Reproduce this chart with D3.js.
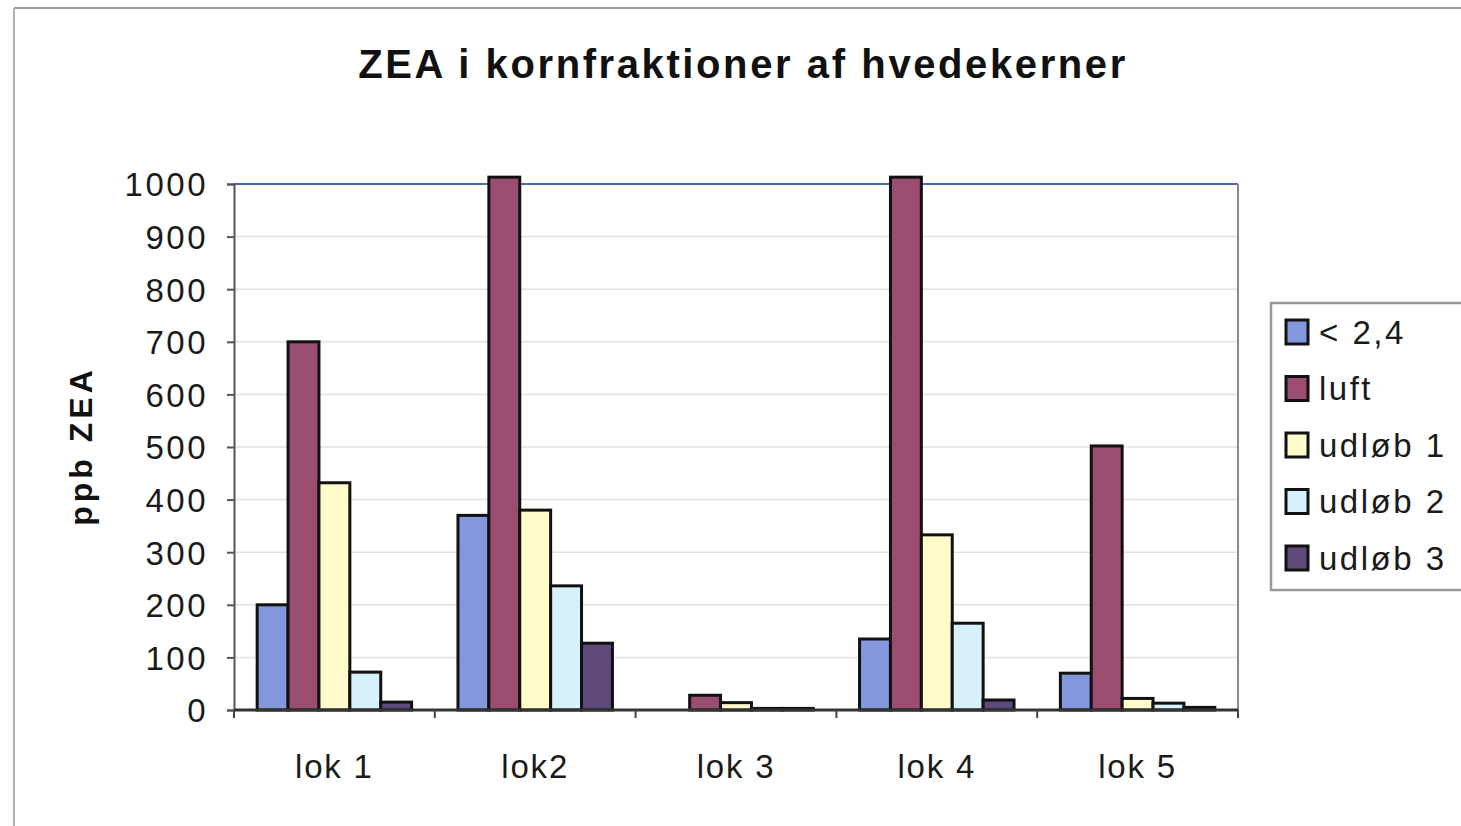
<!DOCTYPE html>
<html><head><meta charset="utf-8">
<script src="https://cdn.jsdelivr.net/npm/d3@7"></script>
<style>body{margin:0;background:#fff;}svg{display:block;font-family:"Liberation Sans",Arial,sans-serif;}</style>
</head><body><svg id="c" width="1461" height="826"></svg>
<script>
const categories = ["lok 1","lok2","lok 3","lok 4","lok 5"];
const seriesNames = ["< 2,4","luft","udløb 1","udløb 2","udløb 3"];
const seriesColors = ["#8497dc","#9b4d70","#fffbca","#d6f1fa","#5e4a78"];
const s_lt24   = [200, 370, 0, 135, 70];
const s_luft   = [700, 1013, 28, 1013, 502];
const s_udl1   = [432, 380, 14, 333, 22];
const s_udl2   = [72, 236, 3, 165, 13];
const s_udl3   = [15, 127, 3, 19, 5];
const seriesValues = [s_lt24, s_luft, s_udl1, s_udl2, s_udl3];
const yTicks = [0,100,200,300,400,500,600,700,800,900,1000];

const svg = d3.select("#c");
const L = 234, R = 1238, T = 184, B = 710;

// chart area border
svg.append("line").attr("x1",14).attr("x2",1461).attr("y1",8).attr("y2",8).attr("stroke","#9a9a9a").attr("stroke-width",2);
svg.append("line").attr("x1",14).attr("x2",14).attr("y1",8).attr("y2",826).attr("stroke","#b0b0b0").attr("stroke-width",2);

const x0 = d3.scaleBand().domain(categories).range([L,R]).paddingInner(0).paddingOuter(0);
const x1 = d3.scaleBand().domain(seriesNames).range([0,x0.bandwidth()]).paddingOuter(0.75);
const y = d3.scaleLinear().domain([0,1000]).range([B,T]);

// gridlines
svg.append("g").selectAll("line").data(yTicks.filter(d=>d>0 && d<1000)).join("line")
  .attr("x1",L).attr("x2",R).attr("y1",d=>y(d)).attr("y2",d=>y(d))
  .attr("stroke","#e2e2e2").attr("stroke-width",1.5);
// plot border
svg.append("line").attr("x1",L).attr("x2",R).attr("y1",y(1000)).attr("y2",y(1000)).attr("stroke","#4a6aa8").attr("stroke-width",2);
svg.append("line").attr("x1",R).attr("x2",R).attr("y1",T).attr("y2",B).attr("stroke","#8a8a8a").attr("stroke-width",2);

// bars
const g = svg.append("g");
categories.forEach((c,ci)=>{
  seriesNames.forEach((s,si)=>{
    const v = seriesValues[si][ci];
    if (v<=0) return;
    g.append("rect")
      .attr("x", x0(c)+x1(s)).attr("width", x1.bandwidth())
      .attr("y", y(v)).attr("height", y(0)-y(v))
      .attr("fill", seriesColors[si]).attr("stroke","#111").attr("stroke-width",3);
  });
});

// y axis
const ya = d3.axisLeft(y).tickValues(yTicks).tickSize(7).tickPadding(19).tickFormat(d3.format("d"));
const yg = svg.append("g").attr("transform",`translate(${L},0)`).call(ya);
yg.select(".domain").attr("stroke","#555").attr("stroke-width",2);
yg.selectAll(".tick line").attr("stroke","#555").attr("stroke-width",2);
yg.selectAll(".tick text").attr("font-size",33).attr("letter-spacing",2.5).attr("fill","#1a1a1a").attr("dy","0.36em").style("font-family","'Liberation Sans',Arial,sans-serif");

// x axis
const xg = svg.append("g").attr("transform",`translate(0,${B})`);
xg.append("line").attr("x1",L).attr("x2",R).attr("y1",0).attr("y2",0).attr("stroke","#333").attr("stroke-width",3);
const bounds = categories.map(c=>x0(c)).concat([R]);
xg.selectAll("line.t").data(bounds).join("line").attr("class","t")
  .attr("x1",d=>d).attr("x2",d=>d).attr("y1",0).attr("y2",8).attr("stroke","#444").attr("stroke-width",2);
xg.selectAll("text").data(categories).join("text")
  .attr("x",d=>x0(d)+x0.bandwidth()/2).attr("y",68)
  .attr("text-anchor","middle").attr("font-size",33).attr("letter-spacing",1.8).attr("fill","#1a1a1a").text(d=>d);

// title
svg.append("text").attr("x",743).attr("y",78).attr("text-anchor","middle")
  .attr("font-size",40).attr("letter-spacing",2.6).attr("font-weight","bold").attr("fill","#111").text("ZEA i kornfraktioner af hvedekerner");
// y label
svg.append("text").attr("transform","translate(92,446) rotate(-90)").attr("text-anchor","middle")
  .attr("font-size",32).attr("letter-spacing",4).attr("font-weight","bold").attr("fill","#111").text("ppb ZEA");

// legend
const lg = svg.append("g");
lg.append("rect").attr("x",1271).attr("y",303).attr("width",195).attr("height",287)
  .attr("fill","#fff").attr("stroke","#999").attr("stroke-width",2.5);
seriesNames.forEach((s,i)=>{
  const yy = 332 + i*56.5;
  lg.append("rect").attr("x",1286).attr("y",yy-12).attr("width",22).attr("height",24)
    .attr("fill",seriesColors[i]).attr("stroke","#111").attr("stroke-width",3);
  lg.append("text").attr("x",1319).attr("y",yy).attr("dy","0.36em").attr("font-size",33).attr("letter-spacing",2.5).attr("fill","#1a1a1a").text(s);
});
</script></body></html>
